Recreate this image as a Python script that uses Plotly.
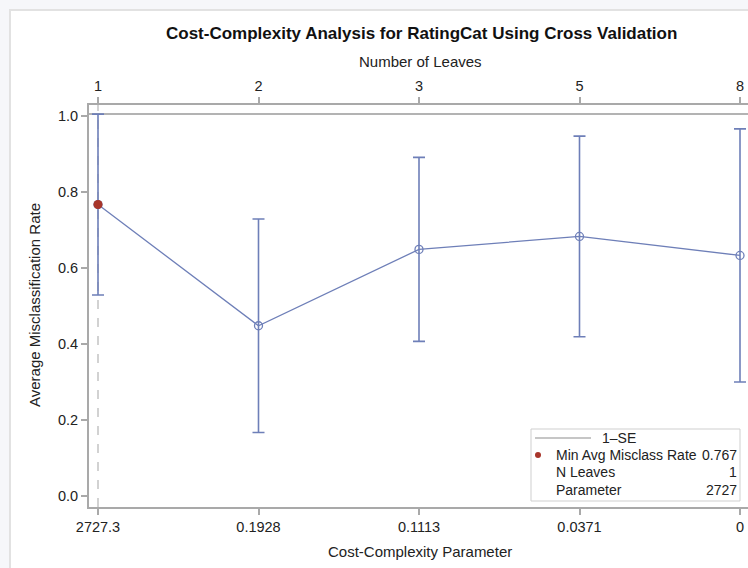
import plotly.graph_objects as go

# Cross-validation results per subtree
cp_labels = ["2727.3", "0.1928", "0.1113", "0.0371", "0"]
n_leaves = ["1", "2", "3", "5", "8"]
avg_misclass = [0.767, 0.448, 0.649, 0.683, 0.633]
std_err = [0.238, 0.281, 0.242, 0.264, 0.333]

min_rate = avg_misclass[0]
min_leaves = 1
min_param = 2727

W, H = 748, 568
L, R, T, B = 89, 0, 105, 61
PW, PH = W - L - R, H - T - B

LINE = "#6e7fb8"
AXIS = "#a9a9a9"
FONT = "Liberation Sans, Arial, sans-serif"
TXT = "#222222"
TICK_SIZE = 14.5


def px(xp):
    return (xp - L) / PW


def py(yp):
    return 1 - (yp - T) / PH


idx = list(range(len(cp_labels)))

fig = go.Figure()

fig.add_trace(go.Scatter(
    x=idx, y=avg_misclass, mode="lines+markers",
    line=dict(color=LINE, width=1.3),
    marker=dict(symbol="circle-open", size=8, color=LINE, line=dict(width=1.3)),
    error_y=dict(type="data", array=std_err, visible=True, color=LINE,
                 thickness=1.6, width=6),
    showlegend=False, hoverinfo="skip",
))

# highlighted minimum point
fig.add_trace(go.Scatter(
    x=[0], y=[min_rate], mode="markers",
    marker=dict(symbol="circle", size=9, color="#a8352a"),
    showlegend=False, hoverinfo="skip",
))

# invisible trace on the top axis so it renders
fig.add_trace(go.Scatter(
    x=idx, y=avg_misclass, xaxis="x2", mode="markers",
    marker=dict(opacity=0), showlegend=False, hoverinfo="skip",
))

xr = [-(98 - L) / 160.5, 4 + (W - 740) / 160.5]
yr = [-(507 - 496) / 380, (496 - 105) / 380]

axis_common = dict(
    showgrid=False, zeroline=False,
    showline=True, linecolor=AXIS, linewidth=2,
    ticks="outside", ticklen=6, tickcolor=AXIS, tickwidth=1.5,
    tickfont=dict(size=TICK_SIZE, color=TXT),
)

fig.update_layout(
    width=W, height=H,
    margin=dict(l=L, r=R, t=T, b=B, pad=0),
    paper_bgcolor="#f6f7fa",
    plot_bgcolor="rgba(0,0,0,0)",
    font=dict(family=FONT, size=12, color=TXT),
    xaxis=dict(range=xr, tickvals=idx, ticktext=cp_labels, **axis_common),
    xaxis2=dict(range=xr, tickvals=idx, ticktext=n_leaves,
                overlaying="x", side="top", **axis_common),
    yaxis=dict(range=yr, tickvals=[0, 0.2, 0.4, 0.6, 0.8, 1.0],
               tickformat=".1f", **axis_common),
)

shapes = [
    # white panel with light border
    dict(type="rect", xref="paper", yref="paper", layer="below",
         x0=px(10), x1=px(W + 5), y0=py(10), y1=py(H + 5),
         fillcolor="white", line=dict(color="#e2e2e2", width=2)),
    # 1-SE reference line
    dict(type="line", xref="paper", yref="y",
         x0=0, x1=1, y0=min_rate + std_err[0], y1=min_rate + std_err[0],
         line=dict(color="#b3b3b3", width=2), layer="below"),
    # selected parameter reference
    dict(type="line", xref="x", yref="paper",
         x0=0, x1=0, y0=0, y1=1,
         line=dict(color="#c4c4c4", width=1.5, dash="dash"), layer="below"),
    # legend box
    dict(type="rect", xref="paper", yref="paper",
         x0=px(531), x1=px(740), y0=py(501), y1=py(429),
         fillcolor="white", line=dict(color="#cfcfcf", width=1)),
    dict(type="line", xref="paper", yref="paper",
         x0=px(535), x1=px(591), y0=py(438), y1=py(438),
         line=dict(color="#b3b3b3", width=1.5)),
    dict(type="circle", xref="paper", yref="paper",
         x0=px(535), x1=px(541), y0=py(458), y1=py(452),
         fillcolor="#a8352a", line=dict(color="#a8352a", width=0)),
]
fig.update_layout(shapes=shapes)

ann = []


def text(x, y, s, size=14, anchor="center", bold=False, angle=0):
    ann.append(dict(
        xref="paper", yref="paper", x=px(x), y=py(y), text=f"<b>{s}</b>" if bold else s,
        showarrow=False, xanchor=anchor, yanchor="middle", textangle=angle,
        font=dict(size=size, family=FONT, color="#111111" if bold else TXT),
    ))


text(421, 34, "Cost-Complexity Analysis for RatingCat Using Cross Validation", size=17, bold=True)
text(420, 61, "Number of Leaves", size=15)
text(420, 551, "Cost-Complexity Parameter", size=15)
text(34, 305, "Average Misclassification Rate", size=15, angle=-90)

text(600, 438, "1\u2013SE", anchor="left")
text(554, 455, "Min Avg Misclass Rate", anchor="left")
text(739, 455, f"{min_rate:.3f}", anchor="right")
text(554, 472, "N Leaves", anchor="left")
text(739, 472, str(min_leaves), anchor="right")
text(554, 490, "Parameter", anchor="left")
text(739, 490, str(min_param), anchor="right")

fig.update_layout(annotations=ann)

fig.write_html("out.html")
